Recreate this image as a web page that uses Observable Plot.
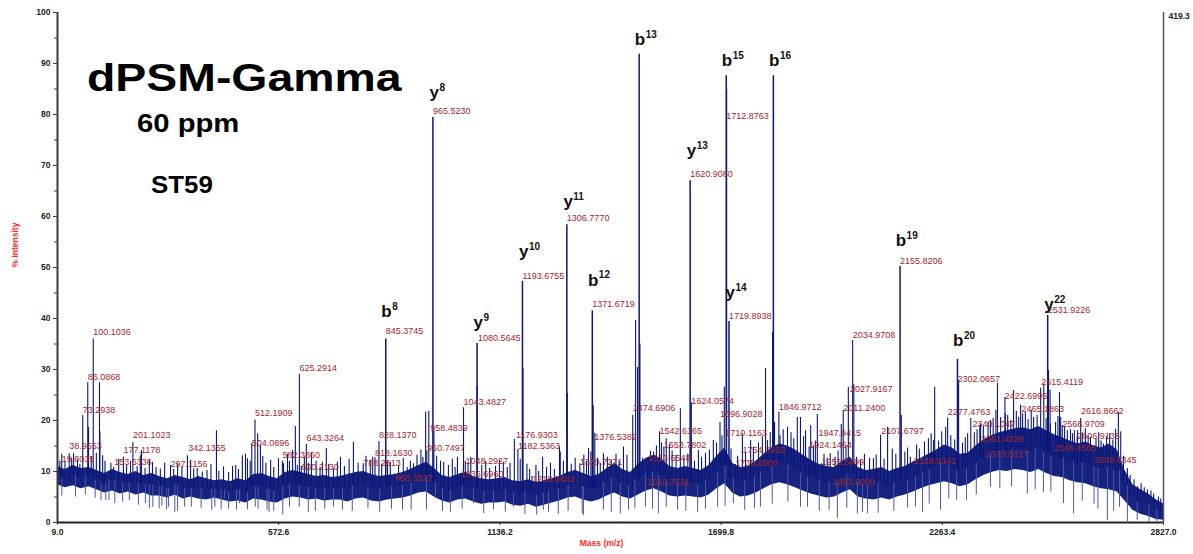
<!DOCTYPE html>
<html>
<head>
<meta charset="utf-8">
<script src="https://cdn.jsdelivr.net/npm/d3@7"></script>
<script src="https://cdn.jsdelivr.net/npm/@observablehq/plot@0.6"></script>
<style>
  html, body { margin: 0; padding: 0; background: #fff; }
  #chart svg { display: block; }
  #chart svg g[aria-label="x-axis tick label"] text,
  #chart svg g[aria-label="y-axis tick label"] text { font-weight: bold; }
</style>
</head>
<body>
<div id="chart"></div>
<script>
// ---------- data ----------
const xTicks = [9.0, 572.6, 1136.2, 1699.8, 2263.4, 2827.0];
const yTicks = [0, 10, 20, 30, 40, 50, 60, 70, 80, 90, 100];
const yMinorTicks = [5, 15, 25, 35, 45, 55, 65, 75, 85, 95];
const maxIntensityLabel = "419.3";
const titleText = "dPSM-Gamma";
const subtitleText = "60 ppm";
const sampleText = "ST59";
const xLabel = "Mass (m/z)";
const yLabel = "% Intensity";

// noise band (read every 20 m/z starting at 9)
const noiseStartMz = 9, noiseStepMz = 20;
const noiseHi = [
  11.0, 10.4, 11.2, 10.6, 10.8, 10.2, 9.6, 10.4, 9.8, 9.4,
  10.0, 9.2, 9.6, 9.0, 8.6, 9.2, 8.8, 8.4, 9.0, 8.6,
  8.2, 8.4, 8.0, 8.6, 8.2, 9.4, 9.6, 9.0, 8.6, 9.8,
  10.2, 9.8, 9.4, 9.0, 9.2, 8.8, 9.0, 9.4, 9.8, 10.0,
  9.4, 9.0, 9.2, 9.4, 9.8, 10.4, 11.2, 11.8, 10.6, 9.2,
  8.8, 9.4, 9.8, 9.0, 8.6, 8.4, 8.6, 8.8, 8.2, 8.0,
  8.4, 7.8, 8.2, 8.6, 9.0, 9.8, 10.2, 9.6, 9.0, 9.4,
  10.6, 11.6, 10.4, 9.8, 11.4, 12.6, 13.2, 12.4, 11.0, 10.6,
  11.0, 10.6, 10.2, 11.2, 13.0, 14.6, 11.6, 10.8, 11.0, 12.0,
  13.4, 14.6, 15.4, 15.0, 14.2, 13.2, 12.2, 11.4, 11.0, 10.8,
  12.0, 12.8, 10.8, 10.2, 10.4, 10.8, 10.0, 10.6, 11.0, 11.8,
  12.6, 13.4, 14.2, 15.2, 14.6, 13.4, 13.6, 15.0, 16.2, 17.0,
  17.6, 18.0, 18.4, 18.6, 18.2, 18.8, 18.0, 17.2, 16.6, 16.0,
  15.4, 15.8, 15.0, 14.6, 15.4, 14.2, 10.2, 7.4, 6.4, 5.6, 4.4, 3.6
];
const noiseLo = [
  7.4, 6.8, 7.2, 6.6, 7.0, 6.4, 5.8, 6.2, 5.6, 6.0,
  5.4, 5.8, 5.2, 5.2, 4.8, 5.4, 4.6, 5.0, 4.6, 4.4,
  4.8, 4.4, 4.0, 4.2, 3.8, 4.6, 4.4, 4.0, 3.8, 4.6,
  5.0, 4.8, 4.4, 4.6, 4.2, 4.4, 4.4, 4.0, 4.6, 4.8,
  4.2, 4.0, 4.4, 4.6, 4.8, 5.2, 5.8, 6.0, 5.0, 4.2,
  3.8, 4.4, 4.6, 4.0, 3.6, 3.8, 3.8, 4.0, 3.4, 3.2,
  3.6, 3.0, 3.4, 3.8, 4.2, 4.8, 5.0, 4.4, 4.0, 4.4,
  5.2, 5.8, 5.0, 4.6, 5.4, 6.2, 6.6, 6.0, 5.2, 5.0,
  5.2, 5.0, 4.8, 5.4, 6.6, 7.6, 5.8, 5.0, 5.2, 5.8,
  6.6, 7.4, 7.8, 7.4, 6.8, 6.2, 5.6, 5.2, 4.8, 5.0,
  5.8, 6.4, 5.0, 4.6, 4.4, 4.8, 4.4, 5.0, 5.4, 6.0,
  6.6, 7.2, 7.6, 8.0, 7.6, 7.0, 7.4, 8.4, 9.2, 9.8,
  10.2, 10.0, 10.4, 10.2, 9.8, 10.4, 9.6, 9.0, 8.8, 8.2,
  7.8, 7.6, 7.0, 6.6, 6.4, 6.0, 4.2, 2.4, 1.6, 1.2, 0.6, 0.4
];

// downward noise spikes [m/z, lowest % intensity]
const dips = [
  [20, 5.2], [55, 5.0], [80, 5.4], [105, 4.8], [120, 4.3], [132, 4.3], [140, 4.3], [155, 3.7],
  [175, 4.0], [192, 4.3], [215, 3.4], [233, 3.7], [243, 2.7], [252, 3.0], [268, 2.7], [275, 3.2],
  [287, 2.5], [292, 3.0], [308, 2.0], [315, 2.2], [333, 3.0], [350, 3.0], [375, 2.8], [402, 2.4],
  [410, 3.0], [426, 2.5], [435, 4.7], [445, 2.6], [465, 2.4], [473, 3.7], [493, 2.5], [513, 3.0],
  [520, 2.6], [543, 2.4], [548, 2.0], [560, 2.2], [583, 1.4], [600, 3.0], [625, 3.0], [648, 2.0],
  [666, 2.2], [690, 2.6], [712, 3.0], [735, 2.4], [760, 2.2], [800, 2.8], [830, 2.0], [860, 2.6],
  [888, 2.4], [910, 2.4], [949, 2.5], [972, 4.7], [990, 2.2], [1010, 2.0], [1040, 2.6], [1069, 3.7],
  [1095, 1.8], [1120, 2.5], [1150, 2.0], [1171, 3.0], [1200, 1.6], [1230, 1.4], [1247, 2.4],
  [1260, 2.0], [1285, 1.6], [1310, 2.2], [1346, 1.7], [1349, 1.4], [1400, 2.4], [1420, 2.0],
  [1443, 1.7], [1464, 2.4], [1480, 2.8], [1507, 3.0], [1525, 2.6], [1540, 1.7], [1560, 3.0],
  [1589, 2.4], [1610, 2.2], [1640, 2.0], [1660, 2.6], [1691, 3.0], [1710, 3.2], [1731, 3.7],
  [1760, 2.4], [1785, 2.8], [1800, 3.0], [1830, 3.6], [1870, 4.0], [1902, 3.0], [1920, 3.0],
  [1950, 2.2], [1975, 2.4], [1996, 0.8], [2020, 2.8], [2047, 1.7], [2060, 2.0], [2073, 1.7],
  [2100, 1.8], [2140, 2.2], [2175, 2.8], [2195, 3.0], [2213, 2.0], [2230, 3.6], [2259, 2.4],
  [2280, 4.6], [2300, 4.4], [2325, 4.3], [2350, 5.4], [2386, 6.9], [2410, 6.6], [2440, 7.0],
  [2480, 5.6], [2500, 6.4], [2521, 5.9], [2540, 6.0], [2572, 3.7], [2598, 1.7], [2620, 4.2],
  [2650, 3.6], [2660, 2.6], [2684, 0.4], [2700, 2.2], [2715, 3.0], [2735, 0.2], [2760, 0.4],
  [2790, 0.2], [2810, 0.2]
];

// unlabelled & labelled minor peaks [m/z, % intensity]
const peaks = [
  [15, 12.0], [19.8, 13.4], [28, 11.8], [38.9, 13.5], [45, 12.6], [50, 13.5], [60, 12.2], [66, 11.4],
  [73.3, 21.0], [86.1, 27.4], [88, 18.6], [95, 12.8], [100.1, 36.0], [108, 13.6], [116, 27.4],
  [117, 17.8], [124, 13.1], [130, 12.0], [145, 11.6], [152, 10.8], [165, 12.4], [177, 12.8],
  [185, 11.2], [195, 12.0], [201.1, 15.7], [212, 11.0], [220, 13.1], [223, 14.1], [232, 10.6],
  [243, 12.2], [251, 11.8], [260, 10.8], [271, 10.5], [282, 11.6], [297, 11.2], [305, 10.4],
  [315, 11.5], [326, 11.0], [340, 13.1], [348, 12.2], [356, 10.5], [365, 10.6], [378, 9.9],
  [390, 10.2], [400, 11.4], [414, 18.0], [420, 10.0], [432, 10.9], [445, 9.8], [455, 11.0],
  [463, 11.2], [470, 10.4], [480, 13.1], [488, 13.4], [493, 12.5], [500, 12.0], [504, 15.5],
  [512.2, 20.1], [519, 17.4], [526, 15.1], [532, 13.0], [540, 11.6], [552, 12.2], [560, 10.8],
  [572, 12.5], [582, 12.0], [585, 11.5], [595, 13.4], [600, 12.0], [608, 14.1], [615, 18.8],
  [620, 11.2], [625.3, 29.0], [630, 11.0], [638, 12.8], [643, 15.3], [648, 11.6], [656, 13.7],
  [668, 12.0], [678, 10.8], [684, 11.8], [694, 14.5], [700, 11.4], [712, 10.6], [722, 11.8],
  [730, 12.8], [740, 11.0], [752, 12.4], [763, 15.7], [775, 11.6], [788, 11.5], [795, 13.0],
  [806, 12.2], [812, 12.8], [818, 12.7], [828, 15.9], [835, 11.4], [850, 12.0], [857, 11.8],
  [868, 9.5], [878, 11.2], [890, 12.6], [900, 10.8], [908, 12.0], [916, 11.5], [925, 13.2],
  [935, 14.2], [940, 12.8], [947, 21.6], [950, 14.0], [955, 21.8], [968, 18.0], [975, 13.0],
  [985, 12.0], [993, 11.8], [1005, 11.2], [1015, 12.4], [1022, 10.8], [1028, 12.8], [1036, 9.5],
  [1043.5, 22.5], [1048, 12.0], [1055, 11.6], [1062, 12.8], [1078, 26.7], [1090, 11.2],
  [1100, 12.0], [1110, 10.6], [1125, 11.0], [1135, 12.2], [1145, 11.8], [1155, 10.8],
  [1162, 11.6], [1173, 16.3], [1182, 14.3], [1188, 12.4], [1195, 30.2], [1205, 11.4],
  [1212, 10.4], [1218, 9.0], [1228, 11.2], [1235, 10.0], [1245, 12.8], [1255, 10.8],
  [1265, 11.6], [1275, 10.4], [1288, 14.9], [1290, 13.8], [1298, 12.0], [1308, 25.3],
  [1318, 11.4], [1328, 12.6], [1340, 11.5], [1350, 13.2], [1357, 12.0], [1362, 14.5],
  [1368, 13.8], [1374, 22.9], [1378, 17.5], [1385, 12.6], [1392, 11.6], [1400, 13.5],
  [1410, 12.8], [1420, 12.2], [1432, 13.4], [1440, 12.0], [1451, 14.8], [1460, 13.2],
  [1474.7, 21.0], [1482, 39.6], [1487, 30.4], [1493, 35.0], [1500, 12.6], [1511, 8.5],
  [1514, 12.5], [1520, 14.0], [1528, 13.8], [1535, 15.0], [1543, 17.8], [1548, 15.6],
  [1554, 14.8], [1560, 16.4], [1568, 15.2], [1575, 14.0], [1585, 13.2], [1596, 22.3],
  [1605, 12.6], [1615, 13.4], [1624, 23.5], [1632, 12.0], [1642, 14.1], [1650, 12.8],
  [1660, 13.6], [1670, 14.2], [1680, 16.1], [1688, 15.6], [1697, 19.6], [1702, 17.0],
  [1708, 26.5], [1714, 84.9], [1725, 14.4], [1736, 11.3], [1742, 13.0], [1754, 17.4],
  [1762, 13.6], [1775, 16.1], [1782, 14.8], [1795, 15.6], [1805, 16.8], [1813, 30.2],
  [1818, 16.1], [1825, 17.6], [1831, 37.3], [1836, 19.6], [1847, 21.6], [1850, 17.0],
  [1858, 18.2], [1869, 18.7], [1878, 17.6], [1885, 16.4], [1894, 20.6], [1902, 20.6],
  [1910, 16.8], [1915, 18.0], [1924, 14.8], [1928, 19.0], [1935, 15.0], [1940, 16.0],
  [1945, 21.2], [1956, 11.5], [1962, 13.4], [1970, 12.6], [1978, 13.5], [1983, 8.0],
  [1990, 12.8], [1998, 14.0], [2006, 19.2], [2011, 22.0], [2018, 15.0], [2024, 26.5],
  [2035, 35.7], [2038, 27.0], [2045, 12.8], [2055, 12.2], [2065, 13.4], [2078, 12.6],
  [2088, 12.5], [2095, 13.2], [2106, 17.1], [2115, 12.4], [2124, 18.7], [2136, 14.4],
  [2145, 13.4], [2159, 21.0], [2168, 13.8], [2175, 14.6], [2182, 12.8], [2190, 12.0],
  [2198, 15.2], [2205, 14.4], [2218, 15.8], [2228, 16.4], [2235, 17.4], [2241, 16.1],
  [2244, 26.5], [2254, 16.0], [2262, 17.8], [2272, 18.7], [2277, 20.5], [2285, 17.0],
  [2295, 16.2], [2305, 27.8], [2315, 15.6], [2322, 16.6], [2328, 17.4], [2336, 20.4],
  [2345, 17.6], [2352, 18.2], [2359, 19.0], [2361, 19.3], [2368, 18.8], [2373, 13.2],
  [2380, 19.6], [2386, 20.0], [2393, 20.4], [2400, 22.0], [2404, 27.3], [2412, 20.6],
  [2423, 24.5], [2424, 21.3], [2430, 21.0], [2438, 20.0], [2445, 25.9], [2452, 21.8],
  [2458, 20.6], [2463, 23.0], [2468, 21.3], [2475, 21.6], [2482, 20.2], [2490, 22.0],
  [2496, 20.6], [2505, 21.0], [2514, 26.3], [2522, 27.2], [2528, 20.4], [2534, 29.8],
  [2538, 26.0], [2539, 19.3], [2546, 14.2], [2552, 19.6], [2558, 20.8], [2562, 25.5],
  [2565, 20.6], [2569, 19.0], [2575, 18.8], [2582, 18.0], [2590, 18.2], [2595, 17.4],
  [2600, 18.0], [2607, 16.7], [2608, 18.0], [2616, 20.4], [2620, 17.6], [2628, 18.4],
  [2635, 17.0], [2641, 16.7], [2650, 12.0], [2655, 16.4], [2662, 17.6], [2668, 16.0],
  [2674, 15.4], [2682, 16.8], [2690, 17.4], [2698, 16.2], [2705, 18.3], [2712, 21.6],
  [2718, 17.8], [2725, 13.0], [2735, 10.6], [2742, 9.2], [2752, 8.4], [2761, 7.0],
  [2770, 7.6], [2778, 6.8], [2786, 6.4], [2795, 6.2], [2802, 5.6], [2814, 5.0], [2820, 4.6]
];

// assigned fragment ions
const ionSeries = ["b", "y", "y", "y", "y", "b", "b", "y", "b", "y", "b", "b", "b", "y"];
const ionNumber = ["8", "8", "9", "10", "11", "12", "13", "13", "15", "14", "16", "19", "20", "22"];
const ionMz = [845.37, 965.52, 1078.0, 1193.68, 1306.78, 1371.67, 1491.0, 1620.91, 1712.88, 1719.89, 1833.0, 2155.82, 2302.07, 2531.92];
const ionIntensity = [36.0, 79.4, 35.1, 47.3, 58.4, 41.5, 91.8, 67.0, 87.6, 39.4, 87.6, 50.2, 32.0, 40.6];
const ionLabelIntensity = [41.4, 84.3, 39.2, 53.1, 62.9, 47.5, 94.7, 72.9, 90.6, 45.1, 90.6, 55.3, 35.7, 42.7];

// m/z annotations and the % intensity level where each sits
const mzLabels = [
  "19.8035", "38.9653", "73.2938", "86.0868", "100.1036", "153.5336", "177.1178", "201.1023",
  "297.1156", "342.1355", "504.0896", "512.1909", "582.3860", "625.2914", "630.2130", "643.3264",
  "788.2613", "818.1630", "828.1370", "845.3745", "868.3527", "950.7497", "958.4839", "965.5230",
  "1036.6960", "1043.4827", "1048.2927", "1080.5645", "1176.9303", "1182.5363", "1193.6755",
  "1218.3682", "1306.7770", "1339.7271", "1371.6719", "1376.5382", "1474.6906", "1510.7521",
  "1513.6548", "1542.6165", "1553.7802", "1620.9080", "1624.0574", "1696.9028", "1710.1163",
  "1712.8763", "1719.8938", "1735.8900", "1754.0933", "1846.9712", "1924.1464", "1947.9415",
  "1955.5499", "1983.0009", "2011.2400", "2027.9167", "2034.9708", "2107.6797", "2155.8206",
  "2189.9341", "2277.4763", "2302.0657", "2340.1047", "2361.4229", "2373.0317", "2422.6995",
  "2465.1863", "2515.4119", "2531.9226", "2546.4565", "2568.9709", "2606.9138", "2616.8662",
  "2649.8345"
];
const mzLabelIntensity = [
  12.4, 14.9, 22.0, 28.6, 37.3, 11.8, 14.1, 17.1,
  11.4, 14.5, 15.5, 21.4, 13.3, 30.2, 10.8, 16.5,
  11.6, 13.7, 17.1, 37.5, 8.8, 14.5, 18.6, 80.6,
  9.4, 23.7, 12.0, 36.1, 17.1, 14.9, 48.4,
  8.6, 59.6, 11.8, 42.9, 16.7, 22.4, 8.0,
  12.7, 18.0, 15.1, 68.4, 23.9, 21.2, 17.5,
  79.6, 40.4, 11.6, 14.1, 22.7, 15.1, 17.6,
  11.8, 8.0, 22.4, 26.1, 36.7, 18.0, 51.2,
  12.0, 21.6, 28.2, 19.2, 16.3, 13.5, 24.7,
  22.2, 27.5, 41.6, 14.5, 19.2, 16.9, 21.8,
  12.2
];

// ---------- build ----------
const navy = "#0a1778";
const labelRed = "#a3262a";
const axisGray = "#3c3c3c";
const font = "'Liberation Sans', Arial, Helvetica, sans-serif";

const noiseIdx = noiseHi.map((_, i) => i);
const bandIndex = mz => Math.max(0, Math.min(noiseHi.length - 1, Math.round((mz - noiseStartMz) / noiseStepMz)));
const bandMid = mz => { const i = bandIndex(mz); return (noiseHi[i] + noiseLo[i]) / 2; };
const ions = ionSeries.map((s, i) => ({s, n: ionNumber[i], mz: ionMz[i], v: ionIntensity[i], ly: ionLabelIntensity[i]}));
const labels = mzLabels.map((t, i) => ({t, mz: +t, y: mzLabelIntensity[i]}));
const xMin = xTicks[0], xMax = xTicks[xTicks.length - 1];

const chart = Plot.plot({
  width: 1193,
  height: 554,
  marginLeft: 57,
  marginRight: 30,
  marginTop: 12,
  marginBottom: 32,
  style: {fontFamily: font, color: "#222", background: "#fff"},
  x: {domain: [xMin, xMax]},
  y: {domain: [yTicks[0], yTicks[yTicks.length - 1]]},
  marks: [
    Plot.areaY(noiseIdx, {
      x: i => noiseStartMz + noiseStepMz * i,
      y1: i => noiseLo[i],
      y2: i => noiseHi[i],
      fill: navy,
      fillOpacity: 0.95,
      clip: true
    }),
    Plot.ruleX(dips, {x: d => d[0], y1: d => d[1], y2: d => bandMid(d[0]), stroke: "#4a58a8", strokeWidth: 1}),
    Plot.ruleX(peaks, {x: d => d[0], y1: d => bandMid(d[0]), y2: d => d[1], stroke: navy, strokeWidth: 1.1}),
    Plot.ruleX(ions, {x: "mz", y1: d => bandMid(d.mz), y2: "v", stroke: navy, strokeWidth: 1.5}),
    // axes
    Plot.axisY({ticks: yTicks, tickSize: 4, tickPadding: 3, label: null, fontSize: 8.5, fontWeight: "bold", stroke: axisGray}),
    Plot.axisY({ticks: yMinorTicks, tickSize: 3, tickFormat: () => "", label: null, stroke: axisGray}),
    Plot.axisX({ticks: xTicks, tickSize: 3, tickPadding: 3, tickFormat: d => d.toFixed(1), label: null, fontSize: 8.5, fontWeight: "bold", stroke: axisGray}),
    Plot.ruleX([xMin], {stroke: axisGray, strokeWidth: 2}),
    Plot.ruleX([xMax], {stroke: "#555", strokeWidth: 1.5}),
    Plot.ruleY([yTicks[0]], {stroke: "#222", strokeWidth: 2}),
    Plot.text([maxIntensityLabel], {x: xMax, y: yTicks[yTicks.length - 1], dx: 5, dy: 4, textAnchor: "start", fontSize: 8.5, fontWeight: "bold", fill: "#222"}),
    Plot.text([yLabel], {frameAnchor: "left", rotate: -90, dx: -42, fontSize: 8.5, fontWeight: "bold", fill: "#ff2a2a"}),
    Plot.text([xLabel], {frameAnchor: "bottom", dx: -9, dy: 23, fontSize: 8.5, fontWeight: "bold", fill: "#ff2a2a"}),
    // m/z annotations
    Plot.text(labels, {x: "mz", y: "y", text: "t", textAnchor: "start", lineAnchor: "middle", fontSize: 9, fill: labelRed}),
    // ion annotations
    Plot.text(ions, {x: "mz", y: "ly", text: "s", textAnchor: "end", lineAnchor: "middle", dx: 6, fontSize: 17, fontWeight: "bold", fill: "#111"}),
    Plot.text(ions, {x: "mz", y: "ly", text: "n", textAnchor: "start", lineAnchor: "middle", dx: 6.5, dy: -5, fontSize: 10, fontWeight: "bold", fill: "#111"})
  ]
});

const svg = d3.select(chart);
function addTitle(text, x, y, size, sx) {
  svg.append("text")
    .attr("transform", `translate(${x},${y}) scale(${sx},1)`)
    .attr("text-anchor", "start")
    .attr("font-family", font)
    .attr("font-weight", "bold")
    .attr("font-size", size)
    .attr("fill", "#000")
    .text(text);
}
addTitle(titleText, 87, 91, 39, 1.19);
addTitle(subtitleText, 137, 132, 25, 1.17);
addTitle(sampleText, 151, 193, 24, 1.08);

document.getElementById("chart").appendChild(chart);
</script>
</body>
</html>
